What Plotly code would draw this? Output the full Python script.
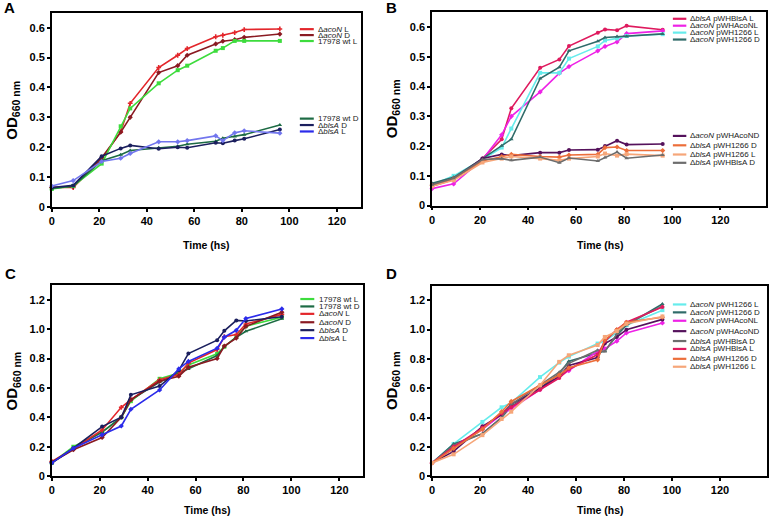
import plotly.graph_objects as go

# ---------------- data ----------------
time_h = [0, 9, 21, 29, 33, 45, 53, 57, 69, 72, 77, 81, 96]

# Panel A
A_acoN_L = [0.065, 0.065, 0.160, 0.252, 0.347, 0.467, 0.508, 0.530, 0.570, 0.575, 0.584, 0.594, 0.596]
A_acoN_D = [0.065, 0.068, 0.165, 0.250, 0.300, 0.450, 0.473, 0.508, 0.546, 0.555, 0.560, 0.568, 0.579]
A_wt_L   = [0.060, 0.070, 0.145, 0.270, 0.330, 0.414, 0.458, 0.473, 0.523, 0.532, 0.556, 0.556, 0.556]
A_wt_D   = [0.062, 0.070, 0.155, 0.175, 0.189, 0.198, 0.203, 0.210, 0.220, 0.230, 0.236, 0.242, 0.274]
A_blsA_D = [0.065, 0.072, 0.170, 0.196, 0.206, 0.195, 0.200, 0.198, 0.215, 0.213, 0.222, 0.228, 0.259]
A_blsA_L = [0.070, 0.088, 0.152, 0.163, 0.179, 0.218, 0.218, 0.222, 0.238, 0.222, 0.248, 0.255, 0.247]

# Panel B
B_blsA_pWHBlsA_L = [0.065, 0.088, 0.158, 0.223, 0.327, 0.463, 0.491, 0.536, 0.581, 0.592, 0.589, 0.604, 0.591]
B_acoN_pWHAcoNL  = [0.057, 0.073, 0.155, 0.238, 0.300, 0.382, 0.445, 0.467, 0.520, 0.535, 0.550, 0.578, 0.587]
B_acoN_pWH1266_L = [0.070, 0.100, 0.155, 0.195, 0.259, 0.446, 0.446, 0.494, 0.535, 0.555, 0.562, 0.570, 0.576]
B_acoN_pWH1266_D = [0.075, 0.095, 0.158, 0.201, 0.223, 0.427, 0.465, 0.520, 0.552, 0.565, 0.568, 0.568, 0.577]
B_acoN_pWHAcoND  = [0.070, 0.090, 0.158, 0.172, 0.168, 0.178, 0.178, 0.187, 0.188, 0.200, 0.218, 0.205, 0.207]
B_blsA_pWH1266_D = [0.068, 0.090, 0.150, 0.165, 0.172, 0.165, 0.163, 0.170, 0.172, 0.195, 0.197, 0.185, 0.185]
B_blsA_pWH1266_L = [0.065, 0.085, 0.145, 0.158, 0.165, 0.158, 0.152, 0.158, 0.165, 0.175, 0.168, 0.173, 0.168]
B_blsA_pWHBlsA_D = [0.070, 0.092, 0.155, 0.158, 0.152, 0.163, 0.144, 0.160, 0.150, 0.162, 0.180, 0.159, 0.170]

# Panel C
C_wt_L   = [0.090, 0.200, 0.300, 0.400, 0.510, 0.662, 0.702, 0.756, 0.832, 0.880, 0.948, 1.020, 1.080]
C_wt_D   = [0.090, 0.190, 0.300, 0.400, 0.520, 0.640, 0.700, 0.729, 0.820, 0.880, 0.945, 0.985, 1.070]
C_acoN_L = [0.100, 0.185, 0.314, 0.468, 0.520, 0.655, 0.691, 0.769, 0.861, 0.948, 0.963, 1.035, 1.100]
C_acoN_D = [0.095, 0.180, 0.263, 0.401, 0.520, 0.645, 0.680, 0.740, 0.800, 0.885, 0.939, 1.019, 1.115]
C_blsA_D = [0.090, 0.190, 0.337, 0.401, 0.553, 0.613, 0.720, 0.834, 0.925, 0.988, 1.059, 1.055, 1.084]
C_blsA_L = [0.090, 0.190, 0.281, 0.341, 0.455, 0.586, 0.729, 0.780, 0.870, 0.945, 0.992, 1.072, 1.137]

# Panel D
D_acoN_pWH1266_L = [0.090, 0.220, 0.370, 0.470, 0.500, 0.676, 0.775, 0.816, 0.905, 0.920, 0.980, 1.030, 1.133]
D_acoN_pWH1266_D = [0.090, 0.220, 0.290, 0.400, 0.475, 0.600, 0.700, 0.785, 0.840, 0.854, 0.960, 1.030, 1.175]
D_acoN_pWHAcoNL  = [0.090, 0.200, 0.320, 0.420, 0.460, 0.590, 0.680, 0.720, 0.852, 0.870, 0.921, 0.977, 1.046]
D_acoN_pWHAcoND  = [0.090, 0.169, 0.340, 0.420, 0.490, 0.600, 0.680, 0.756, 0.810, 0.905, 0.950, 1.000, 1.070]
D_blsA_pWHBlsA_D = [0.090, 0.210, 0.290, 0.400, 0.490, 0.620, 0.710, 0.770, 0.860, 0.850, 0.970, 1.040, 1.160]
D_blsA_pWHBlsA_L = [0.090, 0.200, 0.330, 0.430, 0.470, 0.590, 0.670, 0.730, 0.830, 0.920, 1.000, 1.050, 1.155]
D_blsA_pWH1266_D = [0.090, 0.190, 0.320, 0.440, 0.510, 0.620, 0.690, 0.740, 0.794, 0.930, 1.000, 1.050, 1.085]
D_blsA_pWH1266_L = [0.090, 0.149, 0.280, 0.390, 0.440, 0.620, 0.780, 0.825, 0.895, 0.950, 0.990, 1.040, 1.090]

# labels
x_ticks = [0, 20, 40, 60, 80, 100, 120]
y_ticks_top = [0, 0.1, 0.2, 0.3, 0.4, 0.5, 0.6]
y_ticktext_top = ["0", "0.1", "0.2", "0.3", "0.4", "0.5", "0.6"]
y_ticks_bot = [0, 0.2, 0.4, 0.6, 0.8, 1.0, 1.2]
y_ticktext_bot = ["0", "0.2", "0.4", "0.6", "0.8", "1.0", "1.2"]
x_title = "Time (hs)"
y_title = "OD<sub>660 nm</sub>"
panel_letters = ["A", "B", "C", "D"]

N_acoN_L = "Δ<i>acoN</i> L"
N_acoN_D = "Δ<i>acoN</i> D"
N_wt_L = "17978 wt L"
N_wt_D = "17978 wt D"
N_blsA_D = "Δ<i>blsA</i> D"
N_blsA_L = "Δ<i>blsA</i> L"
N_b_pB_L = "Δ<i>blsA</i> pWHBlsA L"
N_b_pB_D = "Δ<i>blsA</i> pWHBlsA D"
N_a_pA_L = "Δ<i>acoN</i> pWHAcoNL"
N_a_pA_D = "Δ<i>acoN</i> pWHAcoND"
N_a_p1_L = "Δ<i>acoN</i> pWH1266 L"
N_a_p1_D = "Δ<i>acoN</i> pWH1266 D"
N_b_p1_L = "Δ<i>blsA</i> pWH1266 L"
N_b_p1_D = "Δ<i>blsA</i> pWH1266 D"

# ---------------- styling ----------------
W, H = 769, 522
def px(x): return x / W
def py(y): return 1 - y / H

COL = {
    "acoN_L": "#e3262b", "acoN_D": "#8a1a22", "wt_L": "#3ddc3d", "wt_D": "#1d6b44",
    "blsA_D": "#1b1f5e", "blsA_L": "#2b2bea", "blsA_L_A": "#7276ee",
    "b_pB_L": "#df1a5e", "a_pA_L": "#ee22e6", "a_p1_L": "#66ecec", "a_p1_D": "#2f6b69",
    "a_pA_D": "#55125c", "b_p1_D": "#ec6e3a", "b_p1_L": "#f6a679", "b_pB_D": "#6d6d6d",
}

# (axis index, name, values, color, symbol)
series = [
    (1, N_acoN_L, A_acoN_L, COL["acoN_L"], "cross"),
    (1, N_acoN_D, A_acoN_D, COL["acoN_D"], "diamond"),
    (1, N_wt_L, A_wt_L, COL["wt_L"], "square"),
    (1, N_wt_D, A_wt_D, COL["wt_D"], "triangle-up"),
    (1, N_blsA_D, A_blsA_D, COL["blsA_D"], "circle"),
    (1, N_blsA_L, A_blsA_L, COL["blsA_L_A"], "diamond"),
    (2, N_b_pB_L, B_blsA_pWHBlsA_L, COL["b_pB_L"], "circle"),
    (2, N_a_pA_L, B_acoN_pWHAcoNL, COL["a_pA_L"], "diamond"),
    (2, N_a_p1_L, B_acoN_pWH1266_L, COL["a_p1_L"], "square"),
    (2, N_a_p1_D, B_acoN_pWH1266_D, COL["a_p1_D"], "triangle-up"),
    (2, N_a_pA_D, B_acoN_pWHAcoND, COL["a_pA_D"], "circle"),
    (2, N_b_p1_D, B_blsA_pWH1266_D, COL["b_p1_D"], "diamond"),
    (2, N_b_p1_L, B_blsA_pWH1266_L, COL["b_p1_L"], "square"),
    (2, N_b_pB_D, B_blsA_pWHBlsA_D, COL["b_pB_D"], "triangle-up"),
    (3, N_wt_L, C_wt_L, COL["wt_L"], "square"),
    (3, N_wt_D, C_wt_D, COL["wt_D"], "triangle-up"),
    (3, N_acoN_L, C_acoN_L, COL["acoN_L"], "cross"),
    (3, N_acoN_D, C_acoN_D, COL["acoN_D"], "diamond"),
    (3, N_blsA_D, C_blsA_D, COL["blsA_D"], "circle"),
    (3, N_blsA_L, C_blsA_L, COL["blsA_L"], "diamond"),
    (4, N_a_p1_L, D_acoN_pWH1266_L, COL["a_p1_L"], "square"),
    (4, N_a_p1_D, D_acoN_pWH1266_D, COL["a_p1_D"], "triangle-up"),
    (4, N_a_pA_L, D_acoN_pWHAcoNL, COL["a_pA_L"], "diamond"),
    (4, N_a_pA_D, D_acoN_pWHAcoND, COL["a_pA_D"], "circle"),
    (4, N_b_pB_D, D_blsA_pWHBlsA_D, COL["b_pB_D"], "triangle-up"),
    (4, N_b_pB_L, D_blsA_pWHBlsA_L, COL["b_pB_L"], "circle"),
    (4, N_b_p1_D, D_blsA_pWH1266_D, COL["b_p1_D"], "diamond"),
    (4, N_b_p1_L, D_blsA_pWH1266_L, COL["b_p1_L"], "square"),
]

fig = go.Figure()
for ax, name, vals, color, sym in series:
    sfx = "" if ax == 1 else str(ax)
    fig.add_trace(go.Scatter(
        x=time_h, y=vals, name=name, mode="lines+markers",
        line=dict(color=color, width=1.6),
        marker=dict(color=color, size=4, symbol=sym),
        xaxis="x" + sfx, yaxis="y" + sfx, showlegend=False, cliponaxis=False,
    ))

# panel geometry in pixels: left, right, top, bottom, xmax, ymax
panels = [
    (49.0, 359.0, 13.0, 209.3, 130, 0.65, y_ticks_top, y_ticktext_top),
    (430.7, 766.0, 12.3, 208.0, 139, 0.65, y_ticks_top, y_ticktext_top),
    (49.0, 361.7, 288.3, 481.7, 130, 1.30, y_ticks_bot, y_ticktext_bot),
    (430.7, 767.3, 289.0, 481.7, 139.7, 1.30, y_ticks_bot, y_ticktext_bot),
]

tickfont = dict(family="Liberation Sans, Arial", size=11, color="black", weight="bold")
layout = dict(
    width=W, height=H, margin=dict(l=0, r=0, t=0, b=0),
    paper_bgcolor="white", plot_bgcolor="white", showlegend=False,
)
for i, (l, r, t, b, xmax, ymax, yt, ytt) in enumerate(panels):
    sfx = "" if i == 0 else str(i + 1)
    layout["xaxis" + sfx] = dict(
        domain=[px(l), px(r)], range=[0, xmax], anchor="y" + sfx,
        tickvals=x_ticks, ticks="outside", ticklen=3, tickwidth=1.5, tickcolor="black",
        showline=True, linecolor="black", linewidth=1.5, mirror=True,
        showgrid=False, zeroline=False, tickfont=tickfont,
    )
    layout["yaxis" + sfx] = dict(
        domain=[py(b), py(t)], range=[0, ymax], anchor="x" + sfx,
        tickvals=yt, ticktext=ytt, ticks="outside", ticklen=3, tickwidth=1.5, tickcolor="black",
        showline=True, linecolor="black", linewidth=1.5, mirror=True,
        showgrid=False, zeroline=False, tickfont=tickfont,
    )
fig.update_layout(**layout)

annotations = []
shapes = []
# axis titles and panel letters
xt_pos = [(204, 248), (599, 248), (205, 515.5), (599.5, 515.5)]
yt_pos = [(10, 111), (391, 110), (10, 385), (391, 385)]
letter_pos = [(7, 8), (390, 8), (8, 277), (390, 277)]
for i in range(4):
    annotations.append(dict(x=px(xt_pos[i][0]), y=py(xt_pos[i][1]), xref="paper", yref="paper",
                            text=x_title, showarrow=False, xanchor="center", yanchor="middle",
                            font=dict(family="Liberation Sans, Arial", size=10.5, color="black", weight="bold")))
    annotations.append(dict(x=px(yt_pos[i][0]), y=py(yt_pos[i][1]), xref="paper", yref="paper",
                            text=y_title, showarrow=False, textangle=-90, xanchor="center", yanchor="middle",
                            font=dict(family="Liberation Sans, Arial", size=15, color="black", weight="bold")))
    annotations.append(dict(x=px(letter_pos[i][0]), y=py(letter_pos[i][1]), xref="paper", yref="paper",
                            text=panel_letters[i], showarrow=False, xanchor="center", yanchor="middle",
                            font=dict(family="Liberation Sans, Arial", size=15, color="black", weight="bold")))

# hand-drawn legends: (line x0, line x1, text x, [(y, name, color), ...])
legend_groups = [
    (298, 312, 315, [(29.5, N_acoN_L, COL["acoN_L"]), (35.5, N_acoN_D, COL["acoN_D"]), (41.5, N_wt_L, COL["wt_L"])]),
    (298, 312, 315, [(120, N_wt_D, COL["wt_D"]), (126.5, N_blsA_D, COL["blsA_D"]), (133, N_blsA_L, COL["blsA_L"])]),
    (672.5, 686, 688.5, [(19, N_b_pB_L, COL["b_pB_L"]), (26, N_a_pA_L, COL["a_pA_L"]),
                          (33, N_a_p1_L, COL["a_p1_L"]), (40, N_a_p1_D, COL["a_p1_D"])]),
    (672.5, 686, 688.5, [(137.5, N_a_pA_D, COL["a_pA_D"]), (147, N_b_p1_D, COL["b_p1_D"]),
                          (156.3, N_b_p1_L, COL["b_p1_L"]), (164.7, N_b_pB_D, COL["b_pB_D"])]),
    (298.5, 312.5, 316.5, [(302.5, N_wt_L, COL["wt_L"]), (310, N_wt_D, COL["wt_D"]), (317.5, N_acoN_L, COL["acoN_L"]),
                            (326, N_acoN_D, COL["acoN_D"]), (334, N_blsA_D, COL["blsA_D"]), (342, N_blsA_L, COL["blsA_L"])]),
    (672.5, 686, 688.5, [(308, N_a_p1_L, COL["a_p1_L"]), (316, N_a_p1_D, COL["a_p1_D"]), (324.5, N_a_pA_L, COL["a_pA_L"]),
                          (335, N_a_pA_D, COL["a_pA_D"]), (345, N_b_pB_D, COL["b_pB_D"]), (353, N_b_pB_L, COL["b_pB_L"]),
                          (363, N_b_p1_D, COL["b_p1_D"]), (371, N_b_p1_L, COL["b_p1_L"])]),
]
for x0, x1, xt, items in legend_groups:
    for y, name, color in items:
        shapes.append(dict(type="line", xref="paper", yref="paper", x0=px(x0), x1=px(x1),
                           y0=py(y), y1=py(y), line=dict(color=color, width=2.2)))
        annotations.append(dict(x=px(xt), y=py(y), xref="paper", yref="paper", text=name,
                                showarrow=False, xanchor="left", yanchor="middle", borderpad=0,
                                font=dict(family="Liberation Sans, Arial", size=8, color="#222222")))

fig.update_layout(annotations=annotations, shapes=shapes)
fig.write_html("out.html", config={"displayModeBar": False},
               post_script="document.body.style.margin='0px';document.body.style.overflow='hidden';")
